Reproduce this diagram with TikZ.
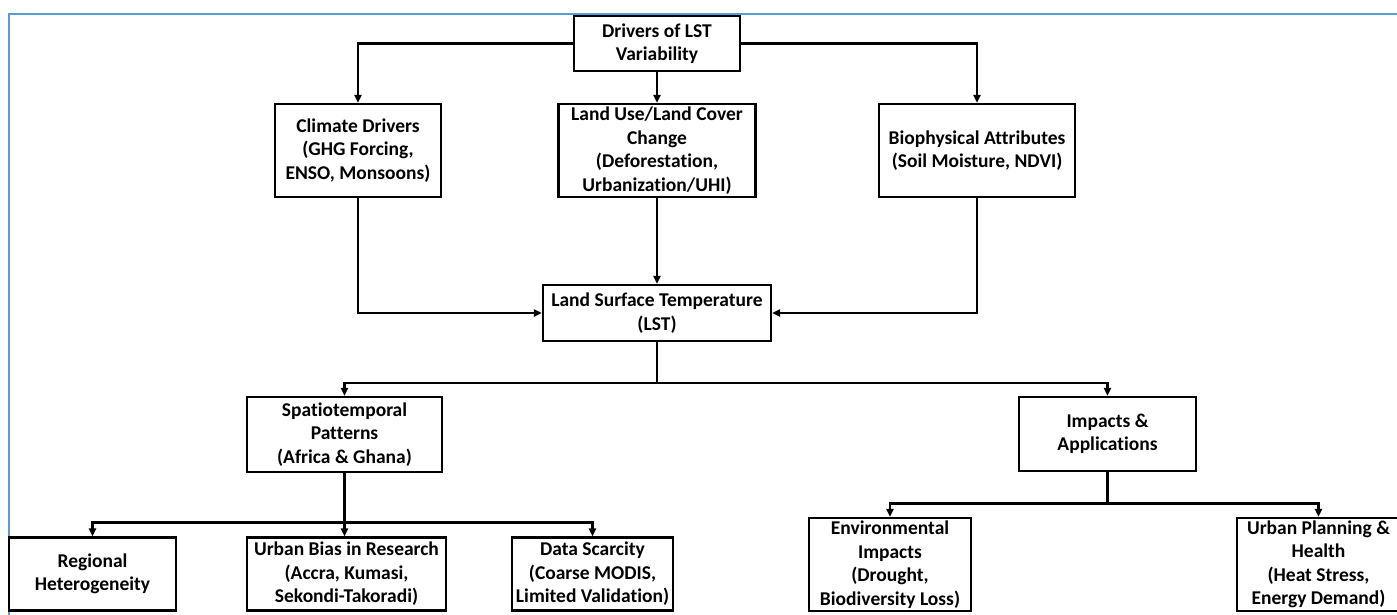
\documentclass[tikz,border=0pt]{standalone}
\usepackage{fontspec}
\setmainfont{Carlito}[Ligatures=NoCommon]
\usepackage{tikz}
\usetikzlibrary{arrows.meta,positioning}
\definecolor{frameblue}{HTML}{5B9BD5}

\begin{document}
\begin{tikzpicture}[x=1pt,y=-1pt,>={Triangle[length=8pt,width=7pt]},
  box/.style={draw,line width=2.2pt,align=center,inner sep=0pt,font={\fontsize{19.5}{23.5}\selectfont\bfseries}},
  conn/.style={line width=2.2pt}]
  \useasboundingbox (0,0) rectangle (1397,614);
  \draw[frameblue,line width=1.8pt] (9,616) -- (9,14) -- (1399,14);
  % top levels
  \node[box,minimum width=166pt,minimum height=55pt] (drv) at (657,43.5) {Drivers of LST\\Variability};
  \node[box,minimum width=166pt,minimum height=93pt] (clim) at (358,150.5) {Climate Drivers\\(GHG Forcing,\\ENSO, Monsoons)};
  \node[box,minimum width=197pt,minimum height=93pt] (lulc) at (657,150.5) {Land Use/Land Cover\\Change\\(Deforestation,\\Urbanization/UHI)};
  \node[box,minimum width=196pt,minimum height=93pt] (bio) at (977,150.5) {Biophysical Attributes\\(Soil Moisture, NDVI)};
  \node[box,minimum width=228pt,minimum height=56pt] (lst) at (657,313) {Land Surface Temperature\\(LST)};
  % second branch level
  \node[box,minimum width=195pt,minimum height=75pt] (spat) at (344.5,434.5) {Spatiotemporal\\Patterns\\(Africa \& Ghana)};
  \node[box,minimum width=177pt,minimum height=74pt] (imp) at (1107.5,434) {Impacts \&\\Applications};
  % leaves
  \node[box,minimum width=167pt,minimum height=73pt] (reg) at (92.5,574) {Regional\\Heterogeneity};
  \node[box,minimum width=199pt,minimum height=73pt] (urb) at (346.5,574) {Urban Bias in Research\\(Accra, Kumasi,\\Sekondi-Takoradi)};
  \node[box,minimum width=161pt,minimum height=73pt] (data) at (592.5,574) {Data Scarcity\\(Coarse MODIS,\\Limited Validation)};
  \node[box,minimum width=162pt,minimum height=93pt] (env) at (890,564.5) {Environmental\\Impacts\\(Drought,\\Biodiversity Loss)};
  \node[box,minimum width=163pt,minimum height=93pt] (upl) at (1318.5,564.5) {Urban Planning \&\\Health\\(Heat Stress,\\Energy Demand)};

  \draw[conn,->] (drv.west) -| (clim.north);
  \draw[conn,->] (drv.east) -| (bio.north);
  \draw[conn,->] (drv.south) -- (lulc.north);
  \draw[conn,->] (clim.south) |- (lst.west);
  \draw[conn,->] (bio.south) |- (lst.east);
  \draw[conn,->] (lulc.south) -- (lst.north);

  \coordinate (s1) at (657,383);
  \draw[conn] (lst.south) -- (s1);
  \draw[conn,->] (s1) -| (spat.north);
  \draw[conn,->] (s1) -| (imp.north);

  \coordinate (s2) at (344.5,522.5);
  \draw[conn] (spat.south) -- (s2);
  \draw[conn,->] (s2) -| (reg.north);
  \draw[conn,->] (s2) -- (s2 |- urb.north);
  \draw[conn,->] (s2) -| (data.north);

  \coordinate (s3) at (1107.5,503.5);
  \draw[conn] (imp.south) -- (s3);
  \draw[conn,->] (s3) -| (env.north);
  \draw[conn,->] (s3) -| (upl.north);
\end{tikzpicture}
\end{document}
